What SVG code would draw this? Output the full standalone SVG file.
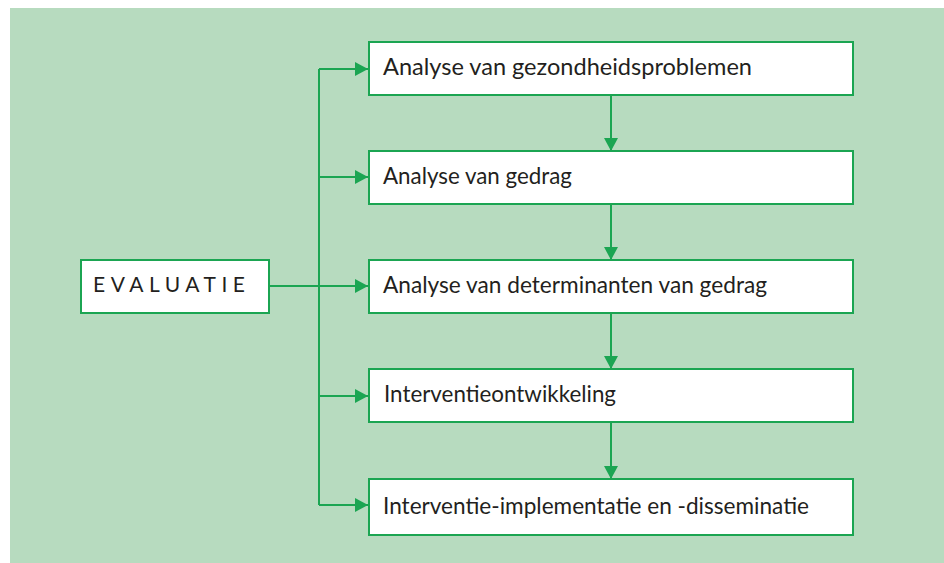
<svg xmlns="http://www.w3.org/2000/svg" width="944" height="563" viewBox="0 0 944 563">
  <defs>
    <style>
      .box { fill: #ffffff; stroke: #1ba552; stroke-width: 2; }
      .lbl { font-family: Lato, "Liberation Sans", sans-serif; font-size: 22.5px; fill: #231f20; }
      .cap { font-size: 21px; }
      .wire { fill: none; stroke: #1ba552; stroke-width: 2; }
    </style>
    <marker id="head" viewBox="0 0 13 14" refX="13" refY="7" markerWidth="13" markerHeight="14" markerUnits="userSpaceOnUse" orient="auto">
      <path d="M0,0 L13,7 L0,14 Z" fill="#1ba552"/>
    </marker>
  </defs>

  <rect x="10" y="8" width="934" height="555" fill="#b7dbbf"/>

  <g id="connectors">
    <!-- feedback rail from the evaluation box to each phase -->
    <path class="wire" d="M269,286 H368" marker-end="url(#head)"/>
    <path class="wire" d="M319,69 V505"/>
    <path class="wire" d="M319,69 H368" marker-end="url(#head)"/>
    <path class="wire" d="M319,177 H368" marker-end="url(#head)"/>
    <path class="wire" d="M319,396 H368" marker-end="url(#head)"/>
    <path class="wire" d="M319,505 H368" marker-end="url(#head)"/>
    <!-- phase sequence -->
    <path class="wire" d="M611,95 V151" marker-end="url(#head)"/>
    <path class="wire" d="M611,204 V260" marker-end="url(#head)"/>
    <path class="wire" d="M611,313 V369" marker-end="url(#head)"/>
    <path class="wire" d="M611,422 V479" marker-end="url(#head)"/>
  </g>

  <g id="evaluatie">
    <rect class="box" x="81" y="260" width="188" height="53"/>
    <text class="lbl cap" x="93" y="292" textLength="152" lengthAdjust="spacing">EVALUATIE</text>
  </g>

  <g id="gezondheidsproblemen">
    <rect class="box" x="369" y="42" width="484" height="53"/>
    <text class="lbl" x="383" y="75" textLength="369" lengthAdjust="spacingAndGlyphs">Analyse van gezondheidsproblemen</text>
  </g>

  <g id="gedrag">
    <rect class="box" x="369" y="151" width="484" height="53"/>
    <text class="lbl" x="383" y="184" textLength="189" lengthAdjust="spacingAndGlyphs">Analyse van gedrag</text>
  </g>

  <g id="determinanten">
    <rect class="box" x="369" y="260" width="484" height="53"/>
    <text class="lbl" x="383" y="293" textLength="384" lengthAdjust="spacingAndGlyphs">Analyse van determinanten van gedrag</text>
  </g>

  <g id="interventieontwikkeling">
    <rect class="box" x="369" y="369" width="484" height="53"/>
    <text class="lbl" x="384" y="402" textLength="232" lengthAdjust="spacingAndGlyphs">Interventieontwikkeling</text>
  </g>

  <g id="implementatie">
    <rect class="box" x="369" y="479" width="484" height="56"/>
    <text class="lbl" x="383" y="514" textLength="426" lengthAdjust="spacingAndGlyphs">Interventie-implementatie en -disseminatie</text>
  </g>
</svg>
